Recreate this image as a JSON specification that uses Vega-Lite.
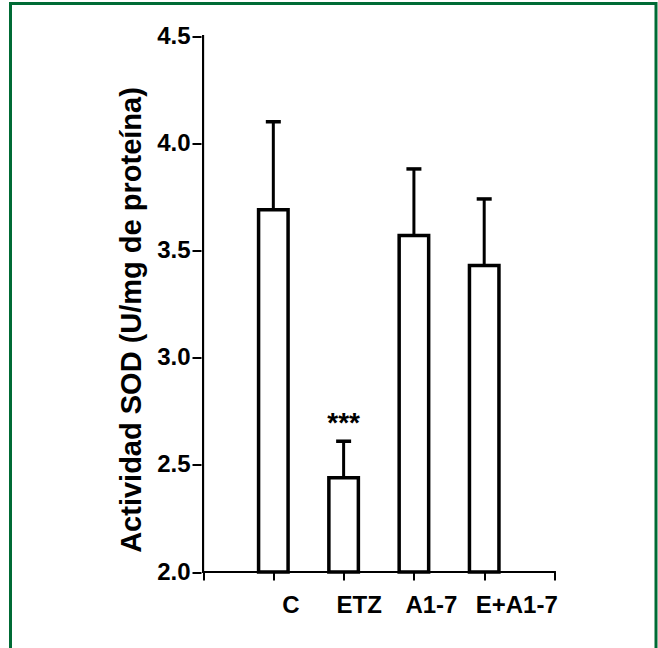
{
  "$schema": "https://vega.github.io/schema/vega-lite/v6.json",
  "width": 645.5,
  "height": 644.5,
  "autosize": "none",
  "padding": {"left": 10.5, "top": 3.5, "right": 2, "bottom": 0},
  "background": "white",
  "config": {
    "font": "Liberation Sans",
    "view": {"fill": "white", "stroke": "#006B35", "strokeWidth": 3, "strokeDash": [1290, 645.5, 700]}
  },
  "data": {
    "values": [
      {"group": "C", "pos": 1, "mean": 3.69, "upper": 4.10, "sig": ""},
      {"group": "ETZ", "pos": 2, "mean": 2.44, "upper": 2.61, "sig": "***"},
      {"group": "A1-7", "pos": 3, "mean": 3.57, "upper": 3.88, "sig": ""},
      {"group": "E+A1-7", "pos": 4, "mean": 3.43, "upper": 3.74, "sig": ""}
    ]
  },
  "layer": [
    {
      "mark": {"type": "bar", "width": 29.5, "fill": "white", "stroke": "black", "strokeWidth": 3.5},
      "encoding": {
        "x": {
          "field": "pos",
          "type": "quantitative",
          "scale": {"domain": [-2.668, 6.373], "nice": false, "zero": false},
          "axis": {
            "orient": "bottom",
            "offset": -76,
            "values": [0, 1, 2, 3, 4, 5],
            "domain": false,
            "grid": false,
            "tickSize": 8,
            "tickWidth": 2,
            "tickColor": "black",
            "labelExpr": "datum.value == 1 ? 'C' : datum.value == 2 ? 'ETZ' : datum.value == 3 ? 'A1-7' : datum.value == 4 ? 'E+A1-7' : ''",
            "labelFontSize": 24,
            "labelFontWeight": "bold",
            "labelColor": "black",
            "labelPadding": 13,
            "labelOffset": {"condition": [{"test": "datum.value == 4", "value": 32}, {"test": "datum.value == 2", "value": 15}], "value": 17},
            "labelFlush": false,
            "labelOverlap": false,
            "labelBound": false,
            "title": null
          }
        },
        "y": {
          "field": "mean",
          "type": "quantitative",
          "scale": {"domain": [1.6456, 4.6516], "nice": false, "zero": false},
          "axis": {
            "orient": "left",
            "offset": -190.5,
            "values": [2, 2.5, 3, 3.5, 4, 4.5],
            "format": ".1f",
            "domain": false,
            "grid": false,
            "tickSize": 9,
            "tickWidth": 2,
            "tickColor": "black",
            "labelFontSize": 24,
            "labelFontWeight": "bold",
            "labelColor": "black",
            "labelPadding": 2,
            "labelFlush": false,
            "labelOverlap": false,
            "labelBound": false,
            "title": "Actividad SOD (U/mg de proteína)",
            "titleFontSize": 29,
            "titleFontWeight": "bold",
            "titleColor": "black",
            "titleAngle": -90,
            "titleAlign": "center",
            "titleBaseline": "middle",
            "titleX": -70,
            "titleY": 316
          }
        },
        "y2": {"datum": 2}
      }
    },
    {
      "mark": {"type": "rule", "strokeWidth": 3, "color": "black"},
      "encoding": {
        "x": {"field": "pos", "type": "quantitative"},
        "y": {"field": "mean", "type": "quantitative"},
        "y2": {"field": "upper"}
      }
    },
    {
      "mark": {"type": "tick", "orient": "horizontal", "size": 15, "thickness": 3.5, "color": "black", "opacity": 1},
      "encoding": {
        "x": {"field": "pos", "type": "quantitative"},
        "y": {"field": "upper", "type": "quantitative"}
      }
    },
    {
      "mark": {"type": "text", "fontSize": 28, "fontWeight": "bold", "baseline": "alphabetic", "align": "center", "dy": -9, "color": "black"},
      "encoding": {
        "x": {"field": "pos", "type": "quantitative"},
        "y": {"field": "upper", "type": "quantitative"},
        "text": {"field": "sig"}
      }
    },
    {
      "mark": {"type": "rule", "strokeWidth": 2, "color": "black", "strokeCap": "square"},
      "encoding": {
        "x": {"datum": 0, "type": "quantitative"},
        "x2": {"datum": 5},
        "y": {"datum": 2, "type": "quantitative"}
      }
    },
    {
      "mark": {"type": "rule", "strokeWidth": 2, "color": "black", "strokeCap": "square"},
      "encoding": {
        "x": {"datum": 0, "type": "quantitative"},
        "y": {"datum": 2, "type": "quantitative"},
        "y2": {"datum": 4.5}
      }
    }
  ]
}
